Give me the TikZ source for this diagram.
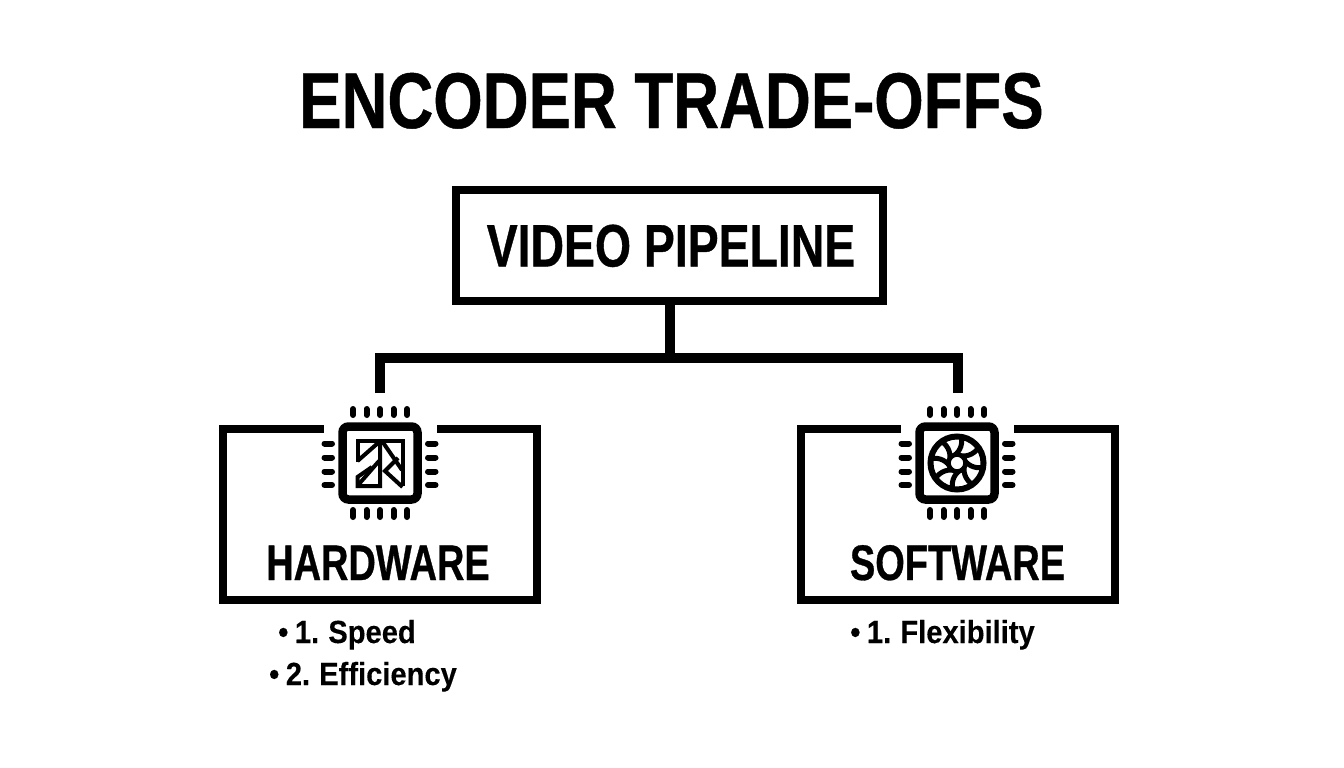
\documentclass[tikz,border=0pt]{standalone}
\usepackage{fontspec}
\setmainfont[FakeStretch=0.91,FakeBold=0.25,WordSpace=0.8]{Liberation Sans Bold}
\newfontfamily\titlefont[FakeStretch=0.804,FakeBold=0.6]{Liberation Sans Bold}
\newfontfamily\headfont[FakeStretch=0.773,FakeBold=0.6]{Liberation Sans Bold}
\newfontfamily\subfont[FakeStretch=0.759,FakeBold=0.6]{Liberation Sans Bold}
\tikzset{
  pline/.style={line width=10pt,black},
  cardbox/.style={draw=black,line width=8pt,fill=white,minimum width=314pt,minimum height=171pt,inner sep=0pt},
  topbox/.style={draw=black,line width=8pt,fill=white,minimum width=427.5pt,minimum height=111pt,inner sep=0pt},
  gap/.style={fill=white,draw=none,minimum width=113pt,minimum height=14pt,inner sep=0pt},
  chipbody/.style={draw=black,line width=8.5pt,fill=white,rounded corners=6pt,minimum width=75pt,minimum height=73pt,inner sep=0pt},
  pin/.style={line width=6pt,line cap=round,black},
  glyph/.style={line width=4pt,black,line join=miter,line cap=butt},
  txt/.style={anchor=base,inner sep=0pt,text=black},
  title/.style={txt,font=\titlefont\fontsize{79}{79}\selectfont},
  head/.style={txt,font=\headfont\fontsize{60}{60}\selectfont},
  sub/.style={txt,font=\subfont\fontsize{50}{50}\selectfont},
  item/.style={txt,font=\fontsize{32}{32}\selectfont},
}
\newcommand{\chippins}[1]{%
  \begin{scope}[shift={(#1)}]
    \foreach \d in {-27,-13.5,0,13.5,27}{
      \draw[pin] (\d,-54) -- (\d,-48);
      \draw[pin] (\d,47) -- (\d,54);
    }
    \foreach \d in {-19.5,-5.5,8.5,22}{
      \draw[pin] (-55.5,\d) -- (-48,\d);
      \draw[pin] (48,\d) -- (55.5,\d);
    }
  \end{scope}}
\begin{document}
\begin{tikzpicture}[x=1pt,y=-1pt]
\useasboundingbox (0,0) rectangle (1344,768);
\fill[white] (0,0) rectangle (1344,768);
\node[title] (ttl) at (671.5,128) {ENCODER TRADE-OFFS};
\node[topbox] (pipe) at (669.5,245.5) {};
\node[head] (pipetxt) at (671,266.5) {VIDEO PIPELINE};
\node[cardbox] (hw) at (380,514) {};
\node[cardbox] (sw) at (957.5,514) {};
\node[gap] (hwgap) at (380.5,428) {};
\node[gap] (swgap) at (957,428) {};
\coordinate (bus) at (669.5,357.5);
\coordinate (hwend) at (380,393);
\coordinate (swend) at (958,393);
\draw[pline] (pipe.south) -- (bus);
\draw[pline] (hwend) |- (bus) -| (swend);
% hardware chip
\node[chipbody] (hwchip) at (380,463) {};
\chippins{380,463}
\begin{scope}[shift={(380,463)}]
  \draw[glyph] (-22.5,-1) -- (-22.5,-22.5) -- (22.5,-22.5) -- (22.5,23);
  \draw[glyph] (0,-22.5) -- (0,23) -- (-22.5,23) -- (-22.5,14) -- (-8,4);
  \draw[glyph] (-22.5,-2) -- (-2,-20);
  \draw[glyph] (-21,21) -- (-1,-2);
  \draw[glyph] (2,-22) -- (22,7);
  \draw[glyph] (22.5,24) -- (5,8) -- (18,-5);
\end{scope}
% software chip
\node[chipbody] (swchip) at (957,463) {};
\chippins{957,463}
\begin{scope}[shift={(957,463)}]
  \draw[black,line width=6pt] (0,0) circle (26.5pt);
  \foreach \a in {0,45,...,315}{
    \draw[black,line width=5pt,line cap=round] (\a:8) to[bend right=35] (\a+55:26);
  }
  \draw[black,line width=4.5pt,fill=white] (0,0) circle (8.5pt);
\end{scope}
\node[sub] (hwtxt) at (378,580) {HARDWARE};
\node[sub] (swtxt) at (957.5,580) {SOFTWARE};
\node[item] (i1) at (347,643) {• 1. Speed};
\node[item] (i2) at (363,685) {• 2. Efficiency};
\node[item] (i3) at (942.5,643) {• 1. Flexibility};
\end{tikzpicture}
\end{document}
